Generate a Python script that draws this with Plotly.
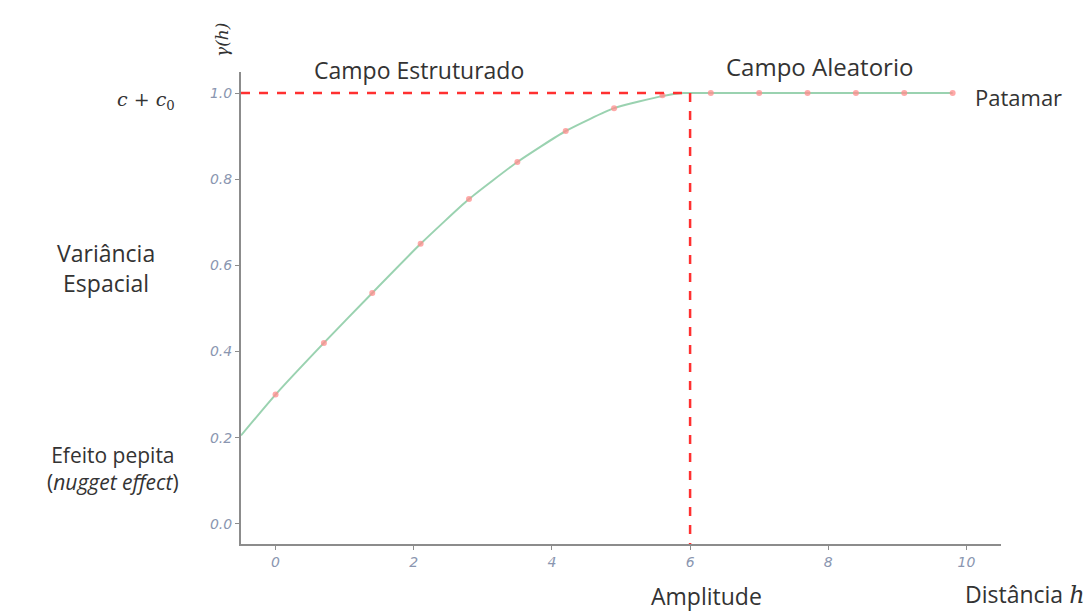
import plotly.graph_objects as go

# Data
lag_h = [0.0, 0.7, 1.4, 2.1, 2.8, 3.5, 4.2, 4.9, 5.6, 6.3, 7.0, 7.7, 8.4, 9.1, 9.8]
gamma_h = [0.30, 0.42, 0.536, 0.65, 0.754, 0.84, 0.912, 0.965, 0.995, 1.0, 1.0, 1.0, 1.0, 1.0, 1.0]
model_h = [-0.5, 0.0, 0.7, 1.4, 2.1, 2.8, 3.5, 4.2, 4.9, 5.6, 5.9, 6.3, 7.0, 7.7, 8.4, 9.1, 9.8]
model_gamma = [0.205, 0.30, 0.42, 0.536, 0.65, 0.754, 0.84, 0.912, 0.965, 0.993, 1.0, 1.0, 1.0, 1.0, 1.0, 1.0, 1.0]
sill = 1.0
range_a = 6.0
x_ticks = [0, 2, 4, 6, 8, 10]
y_ticks = [0.0, 0.2, 0.4, 0.6, 0.8, 1.0]
y_tick_labels = ["0.0", "0.2", "0.4", "0.6", "0.8", "1.0"]

W, H = 1089, 613
L, R, T, B = 241, 88, 72, 69
pw, ph = W - L - R, H - T - B

def px(x):
    return (x - L) / pw

def py(y):
    return (H - B - y) / ph

fig = go.Figure()
fig.add_trace(go.Scatter(x=model_h, y=model_gamma, mode="lines",
                         line=dict(color="rgba(120,195,150,0.75)", width=2, shape="spline", smoothing=0.5),
                         hoverinfo="skip", showlegend=False))
fig.add_trace(go.Scatter(x=lag_h, y=gamma_h, mode="markers",
                         marker=dict(color="rgba(255,140,140,0.75)", size=6),
                         showlegend=False))

# dashed reference lines
fig.add_shape(type="line", xref="x", yref="y", x0=-0.5, x1=range_a, y0=sill, y1=sill,
              line=dict(color="#ff3030", width=2.5, dash="dash"))
fig.add_shape(type="line", xref="x", yref="y", x0=range_a, x1=range_a, y0=sill, y1=-0.047,
              line=dict(color="#ff3030", width=2.5, dash="dash"))

def txt(size):
    return dict(family="Open Sans", size=size, color="#333333")

def ann(text, x, y, font, xanchor="center", textangle=0):
    fig.add_annotation(text=text, x=px(x), y=py(y), xref="paper", yref="paper",
                       showarrow=False, font=font, xanchor=xanchor, yanchor="middle",
                       textangle=textangle)

ann("<i>γ(h)</i>", 222, 40, dict(family="DejaVu Serif", size=17, color="#333333"), textangle=-90)
ann("<i>c</i> + <i>c</i><sub>0</sub>", 146, 101, dict(family="DejaVu Serif", size=19, color="#333333"))
ann("Campo Estruturado", 419, 70, txt(23))
ann("Campo Aleatorio", 819, 67, txt(24))
ann("Patamar", 973, 97, txt(22), xanchor="left")
ann("Variância<br>Espacial", 106, 268, txt(23))
ann("Efeito pepita<br>(<i>nugget effect</i>)", 113, 468, txt(21))
ann("Amplitude", 706, 596, txt(23))
ann("Distância <span style='font-family:DejaVu Serif;font-size:24px'><i>h</i></span>", 1087, 594,
    txt(23), xanchor="right")

tickfont = dict(family="DejaVu Sans", size=14, color="#8a96b0")
fig.update_xaxes(range=[-0.5, 10.5], tickvals=x_ticks, ticktext=["<i>%d</i>" % t for t in x_ticks],
                 showgrid=False, zeroline=False, showline=True, linecolor="#8c8c8c", linewidth=2,
                 ticks="outside", ticklen=4, tickcolor="#8c8c8c", tickfont=tickfont)
fig.update_yaxes(range=[-0.047, 1.049], tickvals=y_ticks, ticktext=["<i>%s</i>" % t for t in y_tick_labels],
                 showgrid=False, zeroline=False, showline=True, linecolor="#8c8c8c", linewidth=2,
                 ticks="outside", ticklen=4, tickcolor="#8c8c8c", tickfont=tickfont)
fig.update_layout(width=W, height=H, margin=dict(l=L, r=R, t=T, b=B),
                  plot_bgcolor="white", paper_bgcolor="white")
fig.write_html("out.html")
